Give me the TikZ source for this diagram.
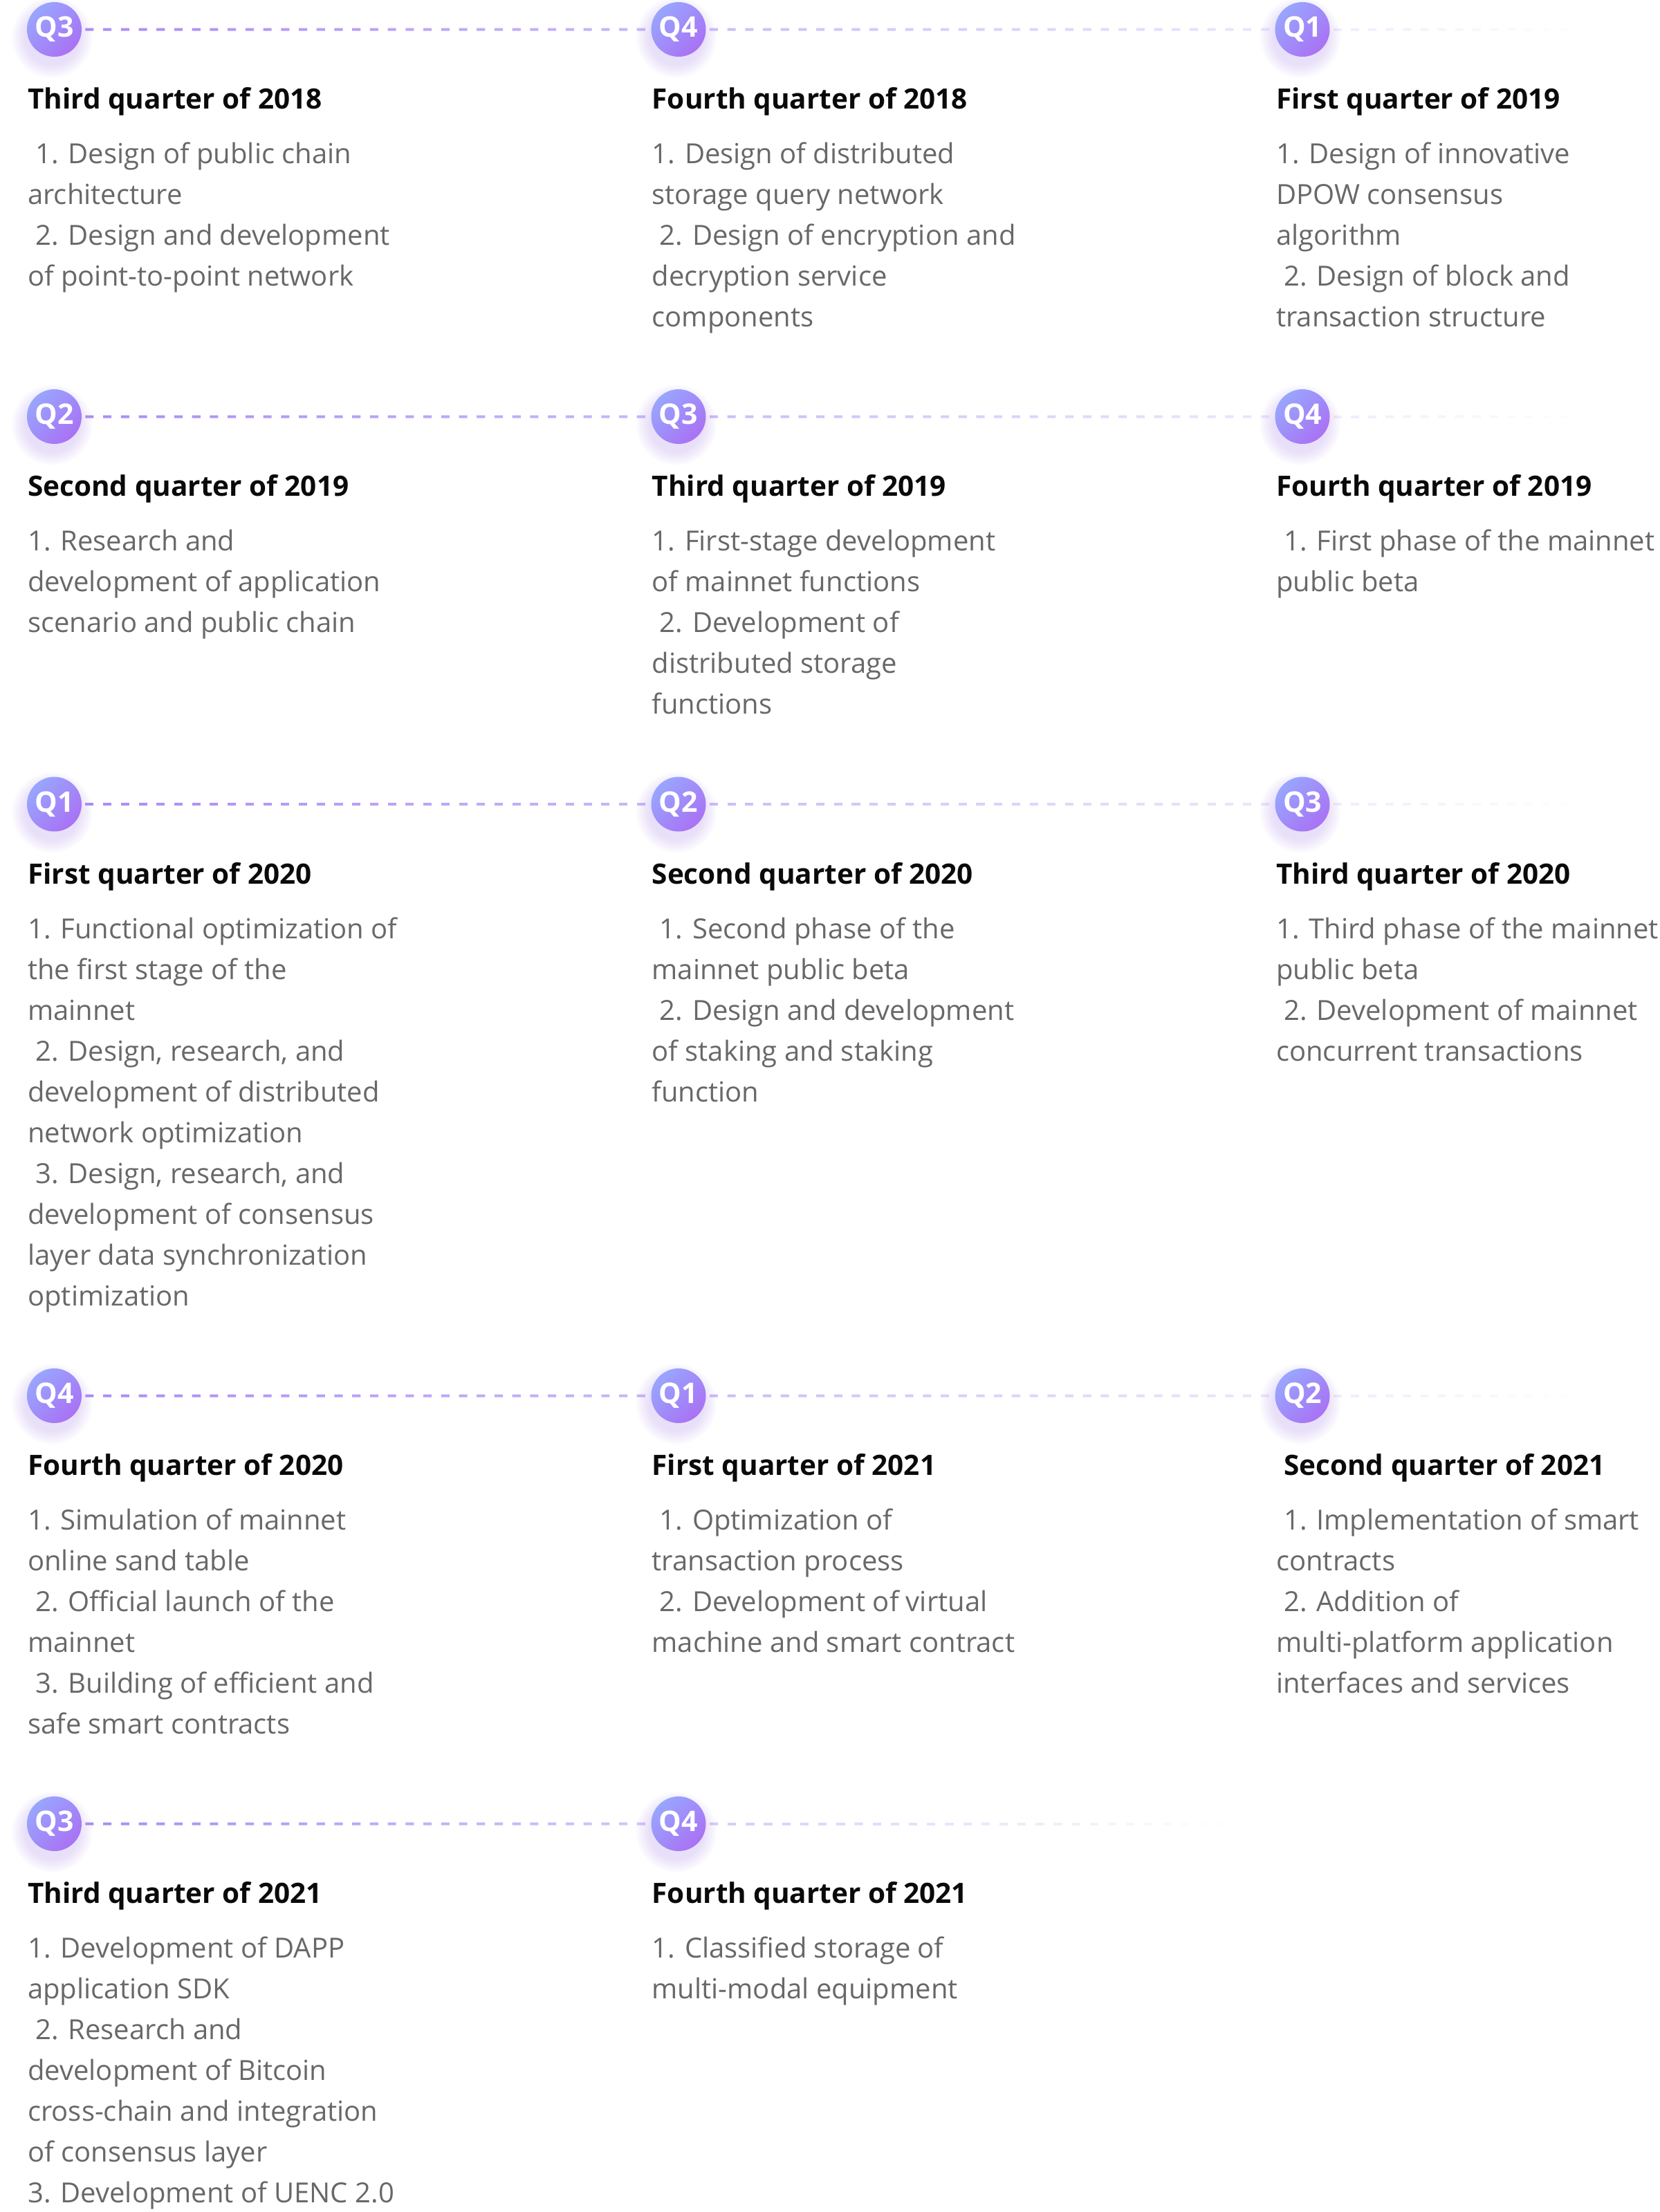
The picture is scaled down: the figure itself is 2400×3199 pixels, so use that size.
\documentclass[tikz,border=0pt]{standalone}
\usepackage{fontspec}
\setmainfont{Open Sans}
\usetikzlibrary{calc}
\definecolor{bodyc}{HTML}{686868}
\definecolor{titlec}{HTML}{0A0A0A}
\definecolor{dashc}{HTML}{A17EF6}
\definecolor{bgA}{HTML}{98A6FF}
\definecolor{bgB}{HTML}{A972F4}
\definecolor{shadowc}{HTML}{8B5CF6}
\newcommand\ind{\hspace*{11pt}}
\newcommand\fstrut{\rule{0pt}{32pt}}
\newcommand\fadeline[5]{%
  \foreach \k in {1,...,#5}{%
    \pgfmathsetmacro\op{#3+(#4-#3)*(\k-0.5)/#5}%
    \draw[dashseg, draw opacity=\op] ($(#1)!{(\k-0.8)/#5}!(#2)$) -- ($(#1)!{(\k-0.33)/#5}!(#2)$);
  }}
\newcommand\badge[4]{%
  \foreach \r in {40,43,...,58}{\fill[shadowc, opacity=0.028] (#2-3,#3+12) circle[radius=\r pt];}
  \node[badgestyle] (#1) at (#2,#3) {#4};}
\tikzset{
  badgestyle/.style={circle, minimum size=79pt, inner sep=0pt, top color=bgA, bottom color=bgB, shading angle=45, draw=none, text=white, font=\fontsize{41}{41}\selectfont\bfseries},
  titlestyle/.style={anchor=base west, inner sep=0pt, text=titlec, font=\fontsize{40.5}{48}\selectfont\bfseries},
  bodystyle/.style={anchor=north west, inner sep=0pt, align=left, text=bodyc, font=\fontsize{40}{59}\selectfont},
  dashseg/.style={dashc, line width=4pt},
}
\begin{document}
\begin{tikzpicture}[x=1pt, y=-1pt]
\useasboundingbox[fill=white] (0,0) rectangle (2400,3199);

% ---------- Row 1 ----------
\badge{r1c1}{78.5}{42.5}{Q3}
\badge{r1c2}{981}{42.5}{Q4}
\badge{r1c3}{1883}{42.5}{Q1}
\coordinate (e1) at (2300,42.5);
\fadeline{r1c1.east}{r1c2.west}{0.9}{0.56}{32}
\fadeline{r1c2.east}{r1c3.west}{0.53}{0.19}{32}
\fadeline{r1c3.east}{e1}{0.15}{0.0}{15}
\node[titlestyle] (t11) at (40,157.5) {Third quarter of 2018};
\node[titlestyle] (t12) at (942.5,157.5) {Fourth quarter of 2018};
\node[titlestyle] (t13) at (1845,157.5) {First quarter of 2019};
\node[bodystyle] (b11) at (40,204.5) {\fstrut\ind 1. Design of public chain\\architecture\\\ind 2. Design and development\\of point-to-point network};
\node[bodystyle] (b12) at (942.5,204.5) {\fstrut 1. Design of distributed\\storage query network\\\ind 2. Design of encryption and\\decryption service\\components};
\node[bodystyle] (b13) at (1845,204.5) {\fstrut 1. Design of innovative\\DPOW consensus\\algorithm\\\ind 2. Design of block and\\transaction structure};

% ---------- Row 2 ----------
\badge{r2c1}{78.5}{602.5}{Q2}
\badge{r2c2}{981}{602.5}{Q3}
\badge{r2c3}{1883}{602.5}{Q4}
\coordinate (e2) at (2300,602.5);
\fadeline{r2c1.east}{r2c2.west}{0.9}{0.56}{32}
\fadeline{r2c2.east}{r2c3.west}{0.53}{0.19}{32}
\fadeline{r2c3.east}{e2}{0.15}{0.0}{15}
\node[titlestyle] (t21) at (40,717.5) {Second quarter of 2019};
\node[titlestyle] (t22) at (942.5,717.5) {Third quarter of 2019};
\node[titlestyle] (t23) at (1845,717.5) {Fourth quarter of 2019};
\node[bodystyle] (b21) at (40,764.5) {\fstrut 1. Research and\\development of application\\scenario and public chain};
\node[bodystyle] (b22) at (942.5,764.5) {\fstrut 1. First-stage development\\of mainnet functions\\\ind 2. Development of\\distributed storage\\functions};
\node[bodystyle] (b23) at (1845,764.5) {\fstrut\ind 1. First phase of the mainnet\\public beta};

% ---------- Row 3 ----------
\badge{r3c1}{78.5}{1163}{Q1}
\badge{r3c2}{981}{1163}{Q2}
\badge{r3c3}{1883}{1163}{Q3}
\coordinate (e3) at (2300,1163);
\fadeline{r3c1.east}{r3c2.west}{0.9}{0.56}{32}
\fadeline{r3c2.east}{r3c3.west}{0.53}{0.19}{32}
\fadeline{r3c3.east}{e3}{0.15}{0.0}{15}
\node[titlestyle] (t31) at (40,1278) {First quarter of 2020};
\node[titlestyle] (t32) at (942.5,1278) {Second quarter of 2020};
\node[titlestyle] (t33) at (1845,1278) {Third quarter of 2020};
\node[bodystyle] (b31) at (40,1325) {\fstrut 1. Functional optimization of\\the first stage of the\\mainnet\\\ind 2. Design, research, and\\development of distributed\\network optimization\\\ind 3. Design, research, and\\development of consensus\\layer data synchronization\\optimization};
\node[bodystyle] (b32) at (942.5,1325) {\fstrut\ind 1. Second phase of the\\mainnet public beta\\\ind 2. Design and development\\of staking and staking\\function};
\node[bodystyle] (b33) at (1845,1325) {\fstrut 1. Third phase of the mainnet\\public beta\\\ind 2. Development of mainnet\\concurrent transactions};

% ---------- Row 4 ----------
\badge{r4c1}{78.5}{2018.5}{Q4}
\badge{r4c2}{981}{2018.5}{Q1}
\badge{r4c3}{1883}{2018.5}{Q2}
\coordinate (e4) at (2300,2018.5);
\fadeline{r4c1.east}{r4c2.west}{0.9}{0.56}{32}
\fadeline{r4c2.east}{r4c3.west}{0.53}{0.19}{32}
\fadeline{r4c3.east}{e4}{0.15}{0.0}{15}
\node[titlestyle] (t41) at (40,2133.5) {Fourth quarter of 2020};
\node[titlestyle] (t42) at (942.5,2133.5) {First quarter of 2021};
\node[titlestyle] (t43) at (1845,2133.5) {\ind Second quarter of 2021};
\node[bodystyle] (b41) at (40,2180.5) {\fstrut 1. Simulation of mainnet\\online sand table\\\ind 2. Official launch of the\\mainnet\\\ind 3. Building of efficient and\\safe smart contracts};
\node[bodystyle] (b42) at (942.5,2180.5) {\fstrut\ind 1. Optimization of\\transaction process\\\ind 2. Development of virtual\\machine and smart contract};
\node[bodystyle] (b43) at (1845,2180.5) {\fstrut\ind 1. Implementation of smart\\contracts\\\ind 2. Addition of\\multi-platform application\\interfaces and services};

% ---------- Row 5 ----------
\badge{r5c1}{78.5}{2637.5}{Q3}
\badge{r5c2}{981}{2637.5}{Q4}
\coordinate (e5) at (1780,2637.5);
\fadeline{r5c1.east}{r5c2.west}{0.9}{0.45}{32}
\fadeline{r5c2.east}{e5}{0.41}{0.0}{29}
\node[titlestyle] (t51) at (40,2752.5) {Third quarter of 2021};
\node[titlestyle] (t52) at (942.5,2752.5) {Fourth quarter of 2021};
\node[bodystyle] (b51) at (40,2799.5) {\fstrut 1. Development of DAPP\\application SDK\\\ind 2. Research and\\development of Bitcoin\\cross-chain and integration\\of consensus layer\\3. Development of UENC 2.0};
\node[bodystyle] (b52) at (942.5,2799.5) {\fstrut 1. Classified storage of\\multi-modal equipment};
\end{tikzpicture}
\end{document}
